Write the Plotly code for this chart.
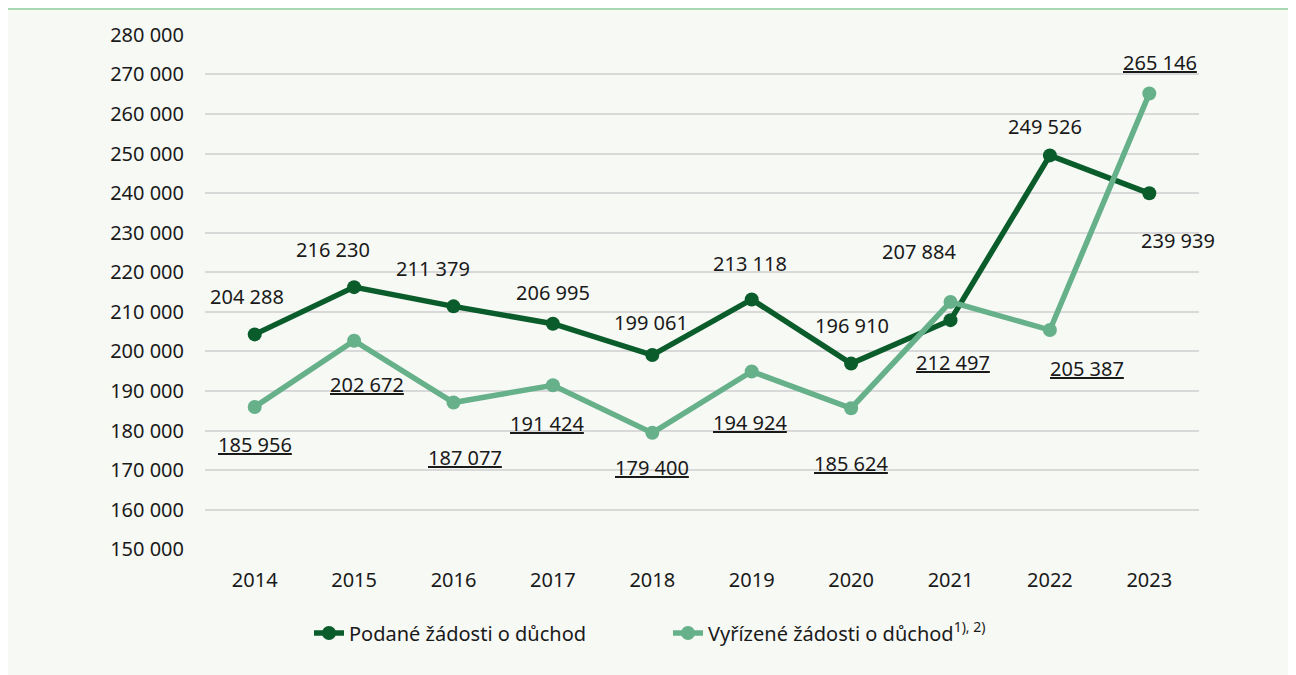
import plotly.graph_objects as go

years = ["2014", "2015", "2016", "2017", "2018", "2019", "2020", "2021", "2022", "2023"]
podane = [204288, 216230, 211379, 206995, 199061, 213118, 196910, 207884, 249526, 239939]
vyrizene = [185956, 202672, 187077, 191424, 179400, 194924, 185624, 212497, 205387, 265146]

name_podane = "Podané žádosti o důchod"
name_vyrizene = "Vyřízené žádosti o důchod<sup>1), 2)</sup>"

# label offsets (px) relative to data point: (xshift, yshift)
off_podane = [(-8, 38), (-21, 38), (-21, 38), (0, 31), (-1, 33), (-2, 36), (1, 38), (-32, 69), (-5, 29), (29, -47)]
off_vyrizene = [(0, -38), (13, -44), (11, -55), (-6, -38), (0, -35), (-2, -51), (0, -55), (2, -61), (37, -38), (11, 31)]

DARK = "#0a5c2b"
LIGHT = "#66b08a"
TXT = "#1a1a1a"
FONT = "Noto Sans"
FS = 20


def fmt(v):
    return f"{v:,}".replace(",", " ")


fig = go.Figure()
fig.add_trace(go.Scatter(x=years, y=podane, name=name_podane, mode="lines+markers",
                         line=dict(color=DARK, width=5.5), marker=dict(size=14, color=DARK)))
fig.add_trace(go.Scatter(x=years, y=vyrizene, name=name_vyrizene, mode="lines+markers",
                         line=dict(color=LIGHT, width=5.5), marker=dict(size=14, color=LIGHT)))

for i, (v, (dx, dy)) in enumerate(zip(podane, off_podane)):
    fig.add_annotation(x=i, y=v, xref="x", yref="y", text=fmt(v), showarrow=False,
                       xshift=dx, yshift=dy, font=dict(family=FONT, size=FS, color=TXT))
for i, (v, (dx, dy)) in enumerate(zip(vyrizene, off_vyrizene)):
    fig.add_annotation(x=i, y=v, xref="x", yref="y", text=f"<u>{fmt(v)}</u>", showarrow=False,
                       xshift=dx, yshift=dy, font=dict(family=FONT, size=FS, color=TXT))

fig.update_layout(
    width=1288, height=667,
    margin=dict(l=197, r=97, t=26, b=125, autoexpand=False),
    paper_bgcolor="#f7f9f5", plot_bgcolor="#f7f9f5",
    font=dict(family=FONT, size=FS, color=TXT),
    separators=", ",
    showlegend=True,
    legend=dict(orientation="h", x=0.5 + 16 / 1288, xanchor="center", xref="container",
                y=0.063, yanchor="middle", yref="container", entrywidth=314,
                font=dict(family=FONT, size=FS, color=TXT), bgcolor="rgba(0,0,0,0)",
                traceorder="normal"),
    xaxis=dict(type="category", showgrid=False, zeroline=False, showline=False, ticks="",
               tickangle=0, tickfont=dict(family=FONT, size=FS, color=TXT), ticklabelstandoff=16,
               range=[-0.5, 9.5]),
    yaxis=dict(range=[149800, 280200], dtick=10000, tick0=150000, tickformat=",d",
               showgrid=True, gridcolor="#d9d9d9", gridwidth=1.5, zeroline=False, showline=False,
               ticks="", tickfont=dict(family=FONT, size=FS, color=TXT), ticklabelstandoff=20),
)

fig.add_shape(type="line", xref="paper", yref="paper", x0=-197 / 994, x1=1 + 97 / 994,
              y0=1 + 25 / 516, y1=1 + 25 / 516, line=dict(color="#a9d6b3", width=2), layer="above")

fig.write_html("out.html")
